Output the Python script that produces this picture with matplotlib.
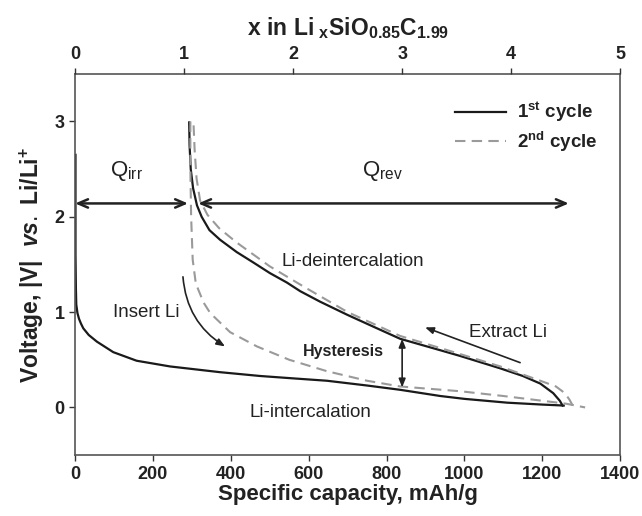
import matplotlib
matplotlib.use("Agg")
import matplotlib.pyplot as plt

plt.rcParams['font.family'] = ['Liberation Sans', 'DejaVu Sans']
plt.rcParams['mathtext.fontset'] = 'custom'
plt.rcParams['mathtext.rm'] = 'Liberation Sans'
plt.rcParams['mathtext.bf'] = 'Liberation Sans:bold'
plt.rcParams['mathtext.it'] = 'Liberation Sans:bold:italic'

# 1st cycle, discharge (lithiation) and charge
cap_d1 = [1, 1, 2, 3, 6, 10, 15, 21, 35, 56, 98, 158, 244, 372, 475, 560, 647, 750,
          835, 938, 1000, 1110, 1200, 1255]
v_d1 = [2.65, 1.6, 1.25, 1.08, 0.99, 0.93, 0.88, 0.83, 0.76, 0.69, 0.58, 0.49, 0.43,
        0.37, 0.33, 0.305, 0.28, 0.23, 0.185, 0.12, 0.09, 0.05, 0.03, 0.02]
cap_c1 = [1252, 1245, 1228, 1195, 1150, 1092, 989, 938, 835, 770, 700, 629, 578,
          544, 500, 458, 415, 372, 345, 325, 313, 303, 297, 294, 293]
v_c1 = [0.02, 0.07, 0.15, 0.25, 0.33, 0.41, 0.54, 0.60, 0.72, 0.84, 0.97, 1.11, 1.22,
        1.31, 1.41, 1.52, 1.63, 1.76, 1.86, 2.0, 2.12, 2.3, 2.5, 2.75, 2.99]

# 2nd cycle
cap_d2 = [296, 296, 298, 302, 310, 330, 347, 398, 467, 550, 647, 750, 835, 989,
          1100, 1200, 1260, 1310]
v_d2 = [3.0, 2.5, 2.0, 1.55, 1.3, 1.1, 0.99, 0.79, 0.64, 0.50, 0.38, 0.28, 0.22,
        0.17, 0.12, 0.07, 0.04, 0.0]
cap_c2 = [1278, 1270, 1258, 1235, 1195, 1092, 989, 835, 700, 586, 500, 415, 370,
          340, 321, 312, 307, 304]
v_c2 = [0.02, 0.08, 0.15, 0.22, 0.28, 0.43, 0.56, 0.75, 1.0, 1.27, 1.48, 1.73, 1.88,
        2.02, 2.17, 2.4, 2.7, 2.99]

x_ticks = [0, 200, 400, 600, 800, 1000, 1200, 1400]
y_ticks = [0, 1, 2, 3]
top_ticks = [0, 1, 2, 3, 4, 5]

q_irr = (0, 290)
q_rev = (316, 1268)
q_level = 2.14

fig = plt.figure(figsize=(6.42, 5.16), dpi=100)
ax = fig.add_axes([0.117, 0.118, 0.849, 0.739])

ax.plot(cap_d1, v_d1, color='#1a1a1a', lw=1.6, label=r'1$^{\mathbf{st}}$ cycle')
ax.plot(cap_c1, v_c1, color='#1a1a1a', lw=1.6)
ax.plot(cap_d2, v_d2, color='#9a9a9a', lw=1.5, ls=(0, (5, 3)),
        label=r'2$^{\mathbf{nd}}$ cycle')
ax.plot(cap_c2, v_c2, color='#9a9a9a', lw=1.5, ls=(0, (5, 3)))

ax.set_xlim(0, 1400)
ax.set_ylim(-0.5, 3.5)
ax.set_xticks(x_ticks)
ax.set_yticks(y_ticks)
ax.tick_params(direction='out', length=4, width=1, colors='#333333',
               labelsize=13, top=False, right=False)
for lab in ax.get_xticklabels() + ax.get_yticklabels():
    lab.set_fontweight('bold')
    lab.set_color('#222222')
for s in ax.spines.values():
    s.set_color('#555555')
    s.set_linewidth(1.2)

ax.set_xlabel('Specific capacity, mAh/g', fontsize=16, fontweight='bold',
              color='#222222', labelpad=1)
ax.set_ylabel(r'Voltage, |V|  $\mathit{vs.}$ Li/Li$^{\mathbf{+}}$', fontsize=16.5,
              fontweight='bold', color='#222222', labelpad=6)

top = ax.twiny()
top.set_xlim(0, 5)
top.set_xticks(top_ticks)
top.tick_params(direction='out', length=4, width=1, colors='#333333', labelsize=13)
for lab in top.get_xticklabels():
    lab.set_fontweight('bold')
    lab.set_color('#222222')
for s in top.spines.values():
    s.set_visible(False)
top.set_xlabel(r'$\mathbf{x\ in\ Li_{\ x}SiO_{0.85}C_{1.99}}$', fontsize=16.5,
               color='#222222', labelpad=8)

leg = ax.legend(loc='upper right', bbox_to_anchor=(0.99, 0.975), frameon=False,
                handlelength=2.7, handletextpad=0.6, labelspacing=0.3,
                prop={'weight': 'bold', 'size': 13.5})
for t in leg.get_texts():
    t.set_color('#222222')

# capacity arrows
arr = dict(arrowstyle='<->,head_length=0.7,head_width=0.3', color='#222222', lw=1.8,
           shrinkA=0, shrinkB=0)
ax.annotate('', xy=(q_irr[0], q_level), xytext=(q_irr[1], q_level), arrowprops=arr)
ax.annotate('', xy=(q_rev[0], q_level), xytext=(q_rev[1], q_level), arrowprops=arr)
ax.text(131, 2.48, r'Q$_{\mathrm{irr}}$', fontsize=16, ha='center', va='center',
        color='#222222')
ax.text(789, 2.48, r'Q$_{\mathrm{rev}}$', fontsize=16, ha='center', va='center',
        color='#222222')

ax.text(712, 1.53, 'Li-deintercalation', fontsize=13.5, ha='center', va='center',
        color='#222222')
ax.text(604, -0.05, 'Li-intercalation', fontsize=13.5, ha='center', va='center',
        color='#222222')
ax.text(183, 1.0, 'Insert Li', fontsize=13.5, ha='center', va='center',
        color='#222222')
ax.text(1113, 0.79, 'Extract Li', fontsize=13.5, ha='center', va='center',
        color='#222222')
ax.text(690, 0.59, 'Hysteresis', fontsize=11.5, fontweight='bold', ha='center',
        va='center', color='#222222')

small = dict(arrowstyle='-|>,head_length=0.5,head_width=0.2', color='#222222', lw=1.2,
             shrinkA=0, shrinkB=0)
ax.annotate('', xy=(899, 0.84), xytext=(1143, 0.47), arrowprops=small)
ax.annotate('', xy=(385, 0.64), xytext=(277, 1.37),
            arrowprops=dict(small, connectionstyle='arc3,rad=0.25'))
ax.annotate('', xy=(840, 0.72), xytext=(840, 0.21),
            arrowprops=dict(small, arrowstyle='<|-|>,head_length=0.5,head_width=0.2'))

fig.savefig('out.png', dpi=100)
